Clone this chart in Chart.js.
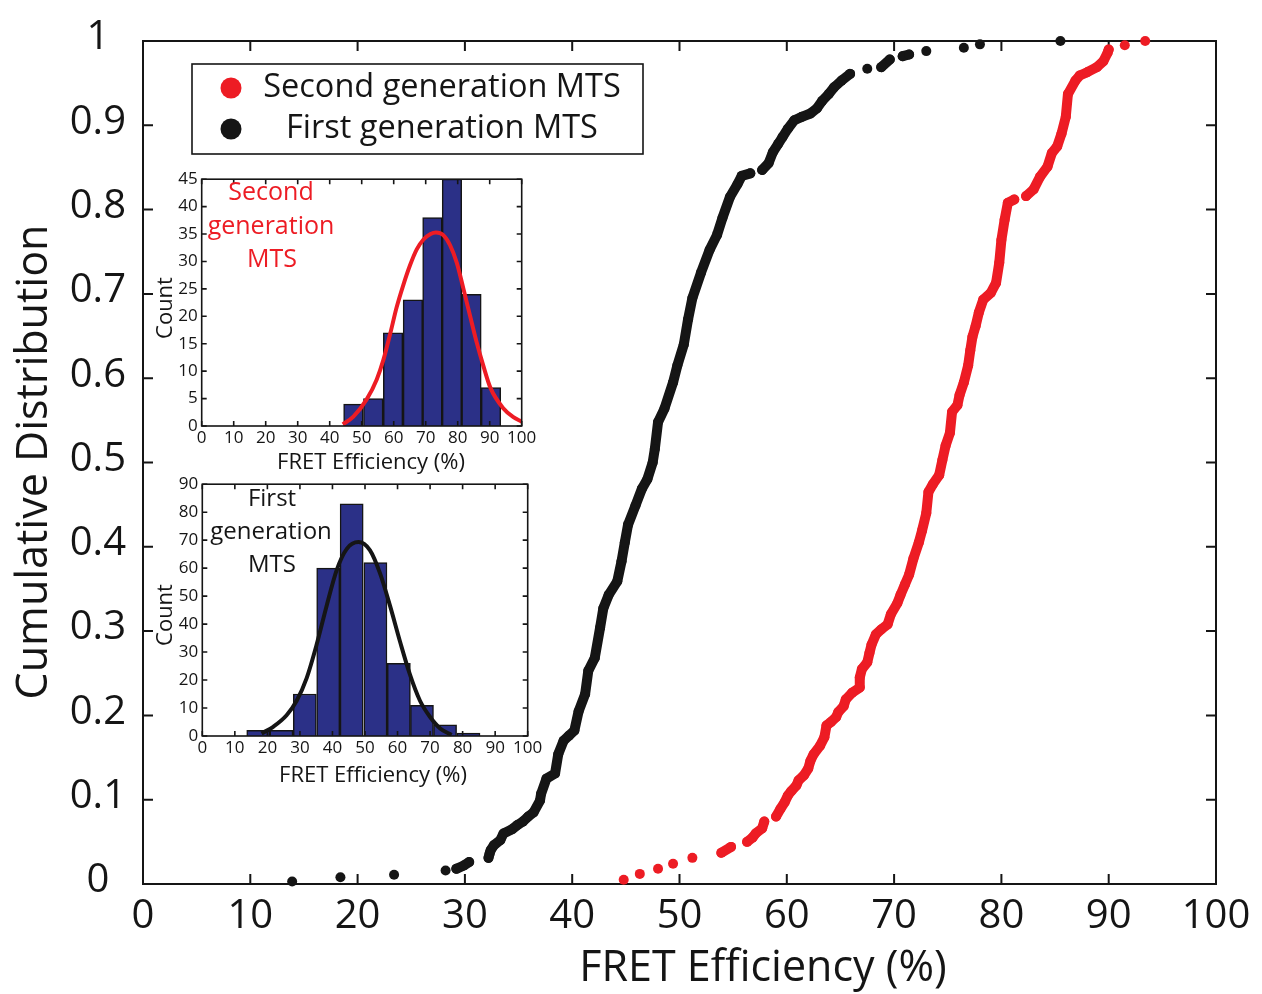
<!DOCTYPE html>
<html>
<head>
<meta charset="utf-8">
<script src="https://cdn.jsdelivr.net/npm/chart.js@4.4.1/dist/chart.umd.min.js"></script>
<style>
html,body{margin:0;padding:0;background:#fff;}
#wrap{position:relative;width:1262px;height:994px;overflow:hidden;}
#wrap canvas{position:absolute;}
</style>
</head>
<body>
<div id="wrap">
  <canvas id="main" width="1262" height="994" style="left:0;top:0;"></canvas>
  <canvas id="insetSecond" width="400" height="320" style="left:150px;top:165px;"></canvas>
  <canvas id="insetFirst" width="410" height="320" style="left:150px;top:470px;"></canvas>
</div>
<script>
// ---------- data ----------
const seriesNames = ['Second generation MTS', 'First generation MTS'];

const xTickValues = [0,10,20,30,40,50,60,70,80,90,100];
const xTickLabels = ['0','10','20','30','40','50','60','70','80','90','100'];
const yTickValues = [0,0.1,0.2,0.3,0.4,0.5,0.6,0.7,0.8,0.9,1];
const yTickLabels = ['0','0.1','0.2','0.3','0.4','0.5','0.6','0.7','0.8','0.9','1'];

// cumulative distribution, [FRET efficiency %, cumulative fraction]
const secondGenPoints = [[44.8,0.005],[46.3,0.012],[48.0,0.018],[49.4,0.024],[51.2,0.031],[53.9,0.037],[54.8,0.044],[56.3,0.050],[56.8,0.055],[57.1,0.060],[57.7,0.066],[57.9,0.074],[59.0,0.080],[59.4,0.089],[59.8,0.097],[60.1,0.105],[60.4,0.110],[60.9,0.117],[61.1,0.123],[61.6,0.129],[62.0,0.137],[62.2,0.146],[62.5,0.154],[63.1,0.164],[63.5,0.174],[63.7,0.188],[64.1,0.192],[64.6,0.198],[64.8,0.204],[65.3,0.211],[65.5,0.219],[66.1,0.227],[66.8,0.233],[66.8,0.245],[67.0,0.255],[67.5,0.263],[67.7,0.274],[67.9,0.284],[68.3,0.296],[68.8,0.302],[69.4,0.308],[69.7,0.320],[70.3,0.333],[70.6,0.343],[71.0,0.355],[71.4,0.367],[71.8,0.386],[72.3,0.405],[72.6,0.419],[73.0,0.440],[73.2,0.465],[73.6,0.474],[74.2,0.485],[74.5,0.503],[74.8,0.520],[75.2,0.535],[75.4,0.560],[75.9,0.568],[76.1,0.580],[76.5,0.595],[76.9,0.615],[77.1,0.633],[77.3,0.649],[77.6,0.662],[77.9,0.678],[78.3,0.693],[79.0,0.701],[79.5,0.713],[79.8,0.737],[80.0,0.764],[80.3,0.788],[80.6,0.808],[81.2,0.812],[82.3,0.816],[83.0,0.824],[83.6,0.839],[84.3,0.851],[84.7,0.867],[85.2,0.875],[85.6,0.890],[86.0,0.910],[86.2,0.937],[86.9,0.953],[87.3,0.959],[88.0,0.963],[88.9,0.969],[89.5,0.976],[89.9,0.986],[90.0,0.990],[91.5,0.995],[93.4,1.0]];

const firstGenPoints = [[13.9,0.003],[18.4,0.008],[23.4,0.011],[28.2,0.016],[29.2,0.018],[29.9,0.022],[30.4,0.026],[32.2,0.031],[32.3,0.036],[32.4,0.040],[32.7,0.046],[33.3,0.052],[33.6,0.060],[34.4,0.065],[34.9,0.070],[35.4,0.074],[35.9,0.080],[36.4,0.085],[37.0,0.099],[37.1,0.107],[37.6,0.125],[38.4,0.131],[38.7,0.154],[39.2,0.170],[39.7,0.176],[40.2,0.182],[40.6,0.205],[41.2,0.225],[41.5,0.253],[42.1,0.268],[42.6,0.304],[42.9,0.327],[43.4,0.343],[44.2,0.359],[44.6,0.383],[44.9,0.405],[45.2,0.426],[45.9,0.449],[46.5,0.469],[47.0,0.480],[47.5,0.500],[47.7,0.516],[48.0,0.548],[48.6,0.564],[49.4,0.595],[49.8,0.615],[50.4,0.640],[50.8,0.670],[51.2,0.695],[52.0,0.725],[52.8,0.752],[53.5,0.770],[54.0,0.790],[54.7,0.815],[55.4,0.830],[55.8,0.840],[56.6,0.843],[57.7,0.847],[58.3,0.855],[58.7,0.868],[59.2,0.878],[59.6,0.886],[60.1,0.896],[60.7,0.906],[61.4,0.910],[62.2,0.914],[62.8,0.920],[63.3,0.929],[63.9,0.937],[64.4,0.945],[65.1,0.953],[65.9,0.961],[67.5,0.967],[68.8,0.969],[69.6,0.978],[70.8,0.982],[71.4,0.984],[73.0,0.988],[76.5,0.992],[78.0,0.996],[85.5,1.0]];

// inset histograms
const insetXTicks = [0,10,20,30,40,50,60,70,80,90,100];
const secondYTicks = [0,5,10,15,20,25,30,35,40,45];
const firstYTicks = [0,10,20,30,40,50,60,70,80,90];

const secondBinCenters = [47.4,53.6,59.8,66.0,72.1,78.2,84.3,90.4];
const secondBinCounts  = [4,5,17,23,38,45,24,7];
const firstBinCenters  = [17.2,24.3,31.5,38.7,45.9,53.2,60.4,67.5,74.6,81.8];
const firstBinCounts   = [2,2,15,60,83,62,26,11,4,1];

// fitted curves, [x, count]
const secondFitPoints = [[44.1,0.3],[47.4,1.7],[51.6,4.9],[54.7,8.5],[56.8,12.1],[58.9,16.8],[60.9,21.6],[63.0,25.7],[65.1,29.3],[67.2,32.2],[69.3,34.0],[71.5,35.0],[73.2,35.3],[75.5,34.8],[77.6,33.0],[79.7,29.8],[81.8,25.0],[83.9,20.0],[85.9,15.3],[88.0,11.0],[90.2,7.0],[94.3,3.2],[97.4,1.6],[100,0.8]];
const firstFitPoints = [[18.2,0.9],[21.8,3.3],[25.9,7.4],[29.0,12.6],[32.1,20.8],[35.1,32.5],[38.2,46.5],[41.3,59.3],[44.4,66.9],[48.0,69.3],[51.5,66.4],[54.6,58.2],[57.7,46.5],[60.8,33.6],[63.8,22.0],[66.9,12.6],[70.0,6.8],[73.1,2.7],[76.6,0.4]];

// ---------- styling ----------
const FONT = "'Open Sans', 'DejaVu Sans', sans-serif";
Chart.defaults.font.family = FONT;
Chart.defaults.color = '#1a1a1a';
const INK = '#151515';
const RED = '#ED1C24';
const NAVY = '#2B3087';

const toXY = arr => arr.map(p => ({x: p[0], y: p[1]}));
const fixedTicks = values => s => { s.ticks = values.map(v => ({value: v})); };

function framePlugin(key, lw, len, xt, yt, after) {
  const hook = after ? 'afterDatasetsDraw' : 'beforeDatasetsDraw';
  return {
    id: 'frame' + key,
    [hook](chart) {
      const {ctx, chartArea: a, scales: {x, y}} = chart;
      ctx.save();
      ctx.strokeStyle = INK;
      ctx.lineWidth = lw;
      ctx.beginPath();
      xt.forEach(v => {
        const px = x.getPixelForValue(v);
        ctx.moveTo(px, a.bottom); ctx.lineTo(px, a.bottom - len);
        ctx.moveTo(px, a.top); ctx.lineTo(px, a.top + len);
      });
      yt.forEach(v => {
        const py = y.getPixelForValue(v);
        ctx.moveTo(a.left, py); ctx.lineTo(a.left + len, py);
        ctx.moveTo(a.right, py); ctx.lineTo(a.right - len, py);
      });
      ctx.stroke();
      ctx.strokeRect(a.left, a.top, a.right - a.left, a.bottom - a.top);
      ctx.restore();
    }
  };
}

function textPlugin(key, list) {
  return {
    id: 'texts' + key,
    afterDraw(chart) {
      const ctx = chart.ctx;
      list.forEach(t => {
        ctx.save();
        ctx.font = t.font;
        ctx.fillStyle = t.color || INK;
        ctx.textAlign = 'center';
        ctx.textBaseline = 'middle';
        ctx.translate(t.x, t.y);
        if (t.rot) ctx.rotate(t.rot);
        ctx.fillText(t.text, 0, 0);
        ctx.restore();
      });
    }
  };
}

const legendBox = {
  id: 'legendBox',
  afterDraw(chart) {
    const ctx = chart.ctx;
    ctx.save();
    ctx.fillStyle = '#fff';
    ctx.fillRect(192, 64, 451, 90);
    ctx.strokeStyle = INK;
    ctx.lineWidth = 1.6;
    ctx.strokeRect(192, 64, 451, 90);
    const rows = [88, 129];
    chart.data.datasets.forEach((ds, i) => {
      ctx.beginPath();
      ctx.fillStyle = ds.pointBackgroundColor;
      ctx.arc(231, rows[i], 10.5, 0, Math.PI * 2);
      ctx.fill();
      ctx.fillStyle = INK;
      ctx.font = "32.5px " + FONT;
      ctx.textAlign = 'center';
      ctx.textBaseline = 'middle';
      ctx.fillText(ds.label, 442, rows[i]);
    });
    ctx.restore();
  }
};

const gapAware = color => c => (Math.abs(c.p1.x - c.p0.x) > 10.5 ? 'rgba(0,0,0,0)' : color);

function cdfDataset(label, points, color) {
  return {
    label: label,
    data: toXY(points),
    showLine: true,
    borderColor: color,
    borderWidth: 10,
    borderCapStyle: 'round',
    borderJoinStyle: 'round',
    pointRadius: 5,
    pointBackgroundColor: color,
    pointBorderWidth: 0,
    clip: false,
    segment: {borderColor: gapAware(color)}
  };
}

// ---------- main chart ----------
new Chart(document.getElementById('main'), {
  type: 'scatter',
  data: {
    datasets: [
      cdfDataset(seriesNames[0], secondGenPoints, RED),
      cdfDataset(seriesNames[1], firstGenPoints, INK)
    ]
  },
  options: {
    responsive: false,
    animation: false,
    events: [],
    layout: {padding: {top: 37, right: 46, left: 0, bottom: 0}},
    scales: {
      x: {
        type: 'linear', min: 0, max: 100,
        afterBuildTicks: fixedTicks(xTickValues),
        afterFit: s => { s.height = 110; },
        grid: {display: false, drawTicks: false},
        border: {display: false},
        ticks: {font: {size: 40}, padding: 9, color: INK, maxRotation: 0, autoSkip: false,
                callback: (v, i) => xTickLabels[i]}
      },
      y: {
        type: 'linear', min: 0, max: 1,
        afterBuildTicks: fixedTicks(yTickValues),
        afterFit: s => { s.width = 143; },
        grid: {display: false, drawTicks: false},
        border: {display: false},
        ticks: {font: {size: 40}, padding: 17, crossAlign: 'center', labelOffset: -3, color: INK, autoSkip: false,
                callback: (v, i) => yTickLabels[i]}
      }
    },
    plugins: {legend: {display: false}, tooltip: {enabled: false}}
  },
  plugins: [
    framePlugin('main', 2, 10, xTickValues, yTickValues, false),
    textPlugin('main', [
      {text: 'FRET Efficiency (%)', x: 763, y: 969, font: '43px ' + FONT},
      {text: 'Cumulative Distribution', x: 35, y: 462, font: '43px ' + FONT, rot: -Math.PI / 2}
    ]),
    legendBox
  ]
});

// ---------- insets ----------
function insetChart(id, cfg) {
  return new Chart(document.getElementById(id), {
    type: 'bar',
    data: {
      datasets: [
        {type: 'line', data: toXY(cfg.fit), borderColor: cfg.fitColor, borderWidth: 4,
         pointRadius: 0, cubicInterpolationMode: 'monotone', order: 0},
        {type: 'bar', data: cfg.centers.map((c, i) => ({x: c, y: cfg.counts[i]})),
         backgroundColor: NAVY, borderColor: INK, borderWidth: 1.5,
         barPercentage: 1, categoryPercentage: 1, order: 1}
      ]
    },
    options: {
      responsive: false,
      animation: false,
      events: [],
      layout: {padding: {top: cfg.padTop, right: cfg.padRight, left: 0, bottom: 0}},
      scales: {
        x: {
          type: 'linear', min: 0, max: 100, offset: false,
          afterBuildTicks: fixedTicks(insetXTicks),
          afterFit: s => { s.height = cfg.xh; },
          grid: {display: false, drawTicks: false},
          border: {display: false},
          ticks: {font: {size: 17}, padding: cfg.xpad, color: INK, maxRotation: 0, autoSkip: false,
                  callback: v => String(v)}
        },
        y: {
          type: 'linear', min: 0, max: cfg.ymax,
          afterBuildTicks: fixedTicks(cfg.yticks),
          afterFit: s => { s.width = cfg.yw; },
          grid: {display: false, drawTicks: false},
          border: {display: false},
          ticks: {font: {size: 17}, padding: 4, color: INK, autoSkip: false, callback: v => String(v)}
        }
      },
      plugins: {legend: {display: false}, tooltip: {enabled: false}}
    },
    plugins: [
      framePlugin(id, 1.6, 5, insetXTicks, cfg.yticks, true),
      textPlugin(id, cfg.texts)
    ]
  });
}

insetChart('insetSecond', {
  fit: secondFitPoints, fitColor: RED,
  centers: secondBinCenters, counts: secondBinCounts,
  padTop: 8.3, padRight: 28.3, xh: 59, yw: 51.7, xpad: 2,
  ymax: 45, yticks: secondYTicks,
  texts: [
    {text: 'Second', x: 121, y: 28, font: '25px ' + FONT, color: RED},
    {text: 'generation', x: 121, y: 62, font: '25px ' + FONT, color: RED},
    {text: 'MTS', x: 122, y: 95, font: '25px ' + FONT, color: RED},
    {text: 'FRET Efficiency (%)', x: 221, y: 298, font: '22px ' + FONT},
    {text: 'Count', x: 16, y: 143, font: '22px ' + FONT, rot: -Math.PI / 2}
  ]
});

insetChart('insetFirst', {
  fit: firstFitPoints, fitColor: INK,
  centers: firstBinCenters, counts: firstBinCounts,
  padTop: 9.3, padRight: 32.3, xh: 54, yw: 52.3, xpad: 2,
  ymax: 90, yticks: firstYTicks,
  texts: [
    {text: 'First', x: 122, y: 29, font: '24px ' + FONT},
    {text: 'generation', x: 121, y: 62, font: '24px ' + FONT},
    {text: 'MTS', x: 122, y: 95, font: '24px ' + FONT},
    {text: 'FRET Efficiency (%)', x: 223, y: 306, font: '22px ' + FONT},
    {text: 'Count', x: 16, y: 145, font: '22px ' + FONT, rot: -Math.PI / 2}
  ]
});
</script>
</body>
</html>
